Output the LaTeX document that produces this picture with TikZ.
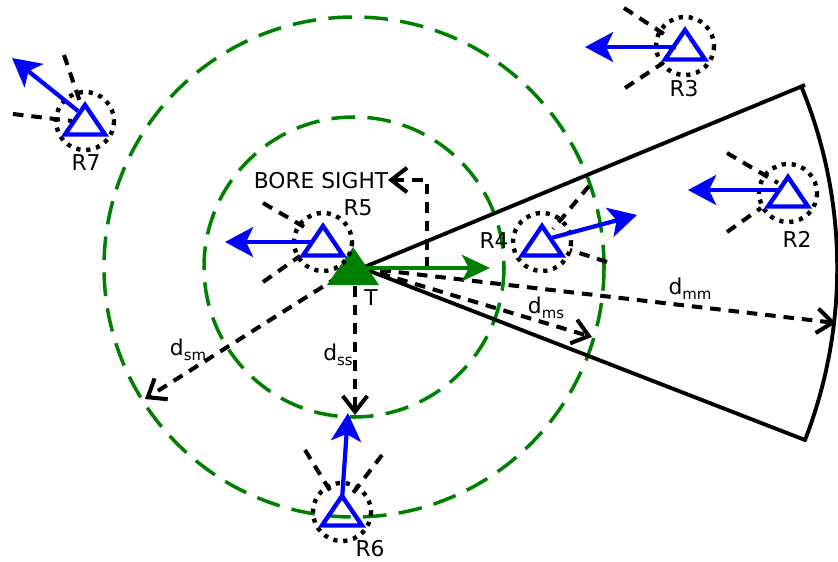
\documentclass[tikz,border=0pt]{standalone}
\usepackage{fontspec}
\setmainfont{DejaVu Sans}
\usetikzlibrary{arrows.meta}
\definecolor{dgreen}{RGB}{0,128,0}
\newcommand\dsub[1]{d\raisebox{-0.4ex}{\fontsize{8.5}{9}\selectfont #1}}
\begin{document}
\begin{tikzpicture}[x=0.02cm,y=-0.02cm,
  font=\fontsize{12.4}{14}\selectfont,
  gring/.style={draw=dgreen, line width=2pt, dash pattern=on 13.5pt off 7pt},
  sector/.style={draw=black, line width=2.2pt, line join=round},
  blk/.style={draw=black, line width=2.3pt, dash pattern=on 6pt off 4.5pt},
  barb/.style={-{Straight Barb[length=9pt,width=14pt,line width=2.3pt]}},
  beam/.style={draw=black, line width=2.3pt, dash pattern=on 6pt off 4.5pt},
  zone/.style={draw=black, line width=2.5pt, dash pattern=on 2.4pt off 3.3pt},
  tri/.style={draw=blue, line width=2.5pt, line join=miter},
  barrow/.style={draw=blue, line width=2.4pt, -{Stealth[length=16pt,width=17pt,inset=4pt]}},
  garrow/.style={draw=dgreen, line width=2.4pt, -{Stealth[length=16pt,width=15pt,inset=4pt]}},
  rcv/.pic={
    \draw[zone] (0,0) circle[radius=29];
    \draw[tri] (0,-16) -- (20,13.5) -- (-20,13.5) -- cycle;
  }]
\useasboundingbox (0,0) rectangle (838,561);

% rings around the transmitter
\coordinate (O) at (354,267);
\draw[gring] (O) circle[radius=150];
\draw[gring] (O) circle[radius=250];

% main-beam sector
\coordinate (T) at (362,268);
\coordinate (U) at (805,85);
\coordinate (L) at (805,440);
\draw[sector] (U) -- (T) -- (L) arc[start angle=21.2, end angle=-22.4, radius=476];

% distance arrows
\coordinate (mm) at (836,323);
\coordinate (ms) at (592,337);
\coordinate (ssS) at (355,268);
\coordinate (ss) at (355,415);
\coordinate (sm) at (145,399);
\draw[blk,barb] (T) -- (mm);
\draw[blk,barb] (T) -- (ms);
\draw[blk,barb] (ssS) -- (ss);
\draw[blk,barb] (O) -- (sm);

% bore sight
\coordinate (bs1) at (427,268);
\coordinate (bs2) at (427,180);
\coordinate (bs3) at (388,180);
\draw[blk,barb] (bs1) -- (bs2) -- (bs3);
\node (bore) at (321,181) {BORE SIGHT};

% transmitter
\coordinate (g) at (490,268);
\draw[garrow] (T) -- (g);
\fill[dgreen] (353,247) -- (379,285) -- (327,285) -- cycle;
\node (lT) at (371,298) {T};

% distance labels
\node (lmm) at (690,289) {\dsub{mm}};
\node (lms) at (546,308) {\dsub{ms}};
\node (lss) at (338,355) {\dsub{ss}};
\node (lsm) at (188,350) {\dsub{sm}};

% R7
\coordinate (r7) at (85,121);
\coordinate (r7a) at (12,58);
\coordinate (r7s) at (78,111);
\draw[beam] (64,55) -- (80,102);
\draw[beam] (13,114) -- (72,121);
\pic at (r7) {rcv};
\draw[barrow] (r7s) -- (r7a);
\node (lR7) at (86,163) {R7};

% R3
\coordinate (r3) at (685,46);
\coordinate (r3a) at (585,47);
\coordinate (r3s) at (676,47);
\draw[beam] (624,8) -- (667,36);
\draw[beam] (625,88) -- (663,63);
\pic at (r3) {rcv};
\draw[barrow] (r3s) -- (r3a);
\node (lR3) at (684,89) {R3};

% R2
\coordinate (r2) at (788,193);
\coordinate (r2a) at (688,190);
\coordinate (r2s) at (778,190);
\draw[beam] (727,153) -- (778,183);
\draw[beam] (727,232) -- (761,208);
\pic at (r2) {rcv};
\draw[barrow] (r2s) -- (r2a);
\node (lR2) at (797,239) {R2};

% R5
\coordinate (r5) at (323,242);
\coordinate (r5a) at (225,242);
\coordinate (r5s) at (312,242);
\draw[beam] (263,203) -- (306,228);
\draw[beam] (263,282) -- (300,256);
\pic at (r5) {rcv};
\draw[barrow] (r5s) -- (r5a);
\node (lR5) at (358,208) {R5};

% R4
\coordinate (r4) at (542,242);
\coordinate (r4a) at (637,215);
\coordinate (r4s) at (551,238);
\draw[beam] (589,186) -- (553,229);
\draw[beam] (607,262) -- (570,250);
\pic at (r4) {rcv};
\draw[barrow] (r4s) -- (r4a);
\node (lR4) at (494,241) {R4};

% R6
\coordinate (r6) at (342,512);
\coordinate (r6a) at (348,413);
\coordinate (r6s) at (342,500);
\draw[beam] (305,450) -- (334,497);
\draw[beam] (382,455) -- (350,497);
\pic at (r6) {rcv};
\draw[barrow] (r6s) -- (r6a);
\node (lR6) at (370,549) {R6};
\end{tikzpicture}
\end{document}
